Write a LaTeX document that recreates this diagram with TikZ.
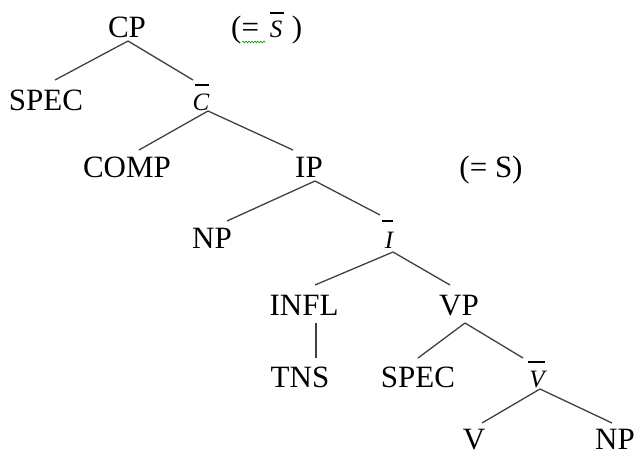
\documentclass[tikz,border=0pt]{standalone}
\usepackage{fontspec}
\setmainfont{Liberation Serif}
\usetikzlibrary{decorations.pathmorphing}
\begin{document}
\begin{tikzpicture}[x=1pt,y=-1pt,
  lbl/.style={inner sep=0pt,anchor=base,font=\fontsize{31}{36}\selectfont},
  ital/.style={inner sep=0pt,anchor=base,font=\fontsize{25}{30}\selectfont\itshape},
  edge/.style={draw=black!75,line width=1.3pt},
  barline/.style={draw=black,line width=1.1pt}]
\useasboundingbox (0,0) rectangle (637,455);
% nodes
\node[lbl] (cp) at (127,37) {CP};
\node[lbl,anchor=base west] (lpar) at (231,37) {(=};
\node[ital] (sl) at (276,37) {S};
\node[lbl] (rpar) at (297,37) {)};
\node[lbl] (spec) at (46,110) {SPEC};
\node[ital] (cbar) at (201,110) {C};
\node[lbl] (comp) at (127,177) {COMP};
\node[lbl] (ip) at (309,177) {IP};
\node[lbl] (eqs) at (491,177) {(= S)};
\node[lbl] (npa) at (212,248) {NP};
\node[ital] (ibar) at (389,248) {I};
\node[lbl] (infl) at (304,315) {INFL};
\node[lbl] (vp) at (459,315) {VP};
\node[lbl] (tns) at (300,387) {TNS};
\node[lbl] (specb) at (418,387) {SPEC};
\node[ital] (vbar) at (537,387) {V};
\node[lbl] (v) at (474,449) {V};
\node[lbl] (npb) at (615,449) {NP};
% bars
\draw[barline] (270,13) -- (284,13);
\draw[barline] (195,85) -- (209,85);
\draw[barline] (382,221) -- (393,221);
\draw[barline] (528,362) -- (545,362);
% spell-check underline
\draw[green!60!black,line width=0.6pt,decorate,decoration={snake,amplitude=0.9pt,segment length=3pt}] (242,42) -- (265,42);
% edges
\draw[edge] ([shift={(1,4)}]cp.base) -- ([shift={(9,-30)}]spec.base);
\draw[edge] ([shift={(1,4)}]cp.base) -- ([shift={(-8,-30)}]cbar.base);
\draw[edge] ([shift={(7,1)}]cbar.base) -- ([shift={(12,-27)}]comp.base);
\draw[edge] ([shift={(7,1)}]cbar.base) -- ([shift={(-16,-27)}]ip.base);
\draw[edge] ([shift={(6,4)}]ip.base) -- ([shift={(15,-27)}]npa.base);
\draw[edge] ([shift={(6,4)}]ip.base) -- ([shift={(-9,-33)}]ibar.base);
\draw[edge] ([shift={(4,4)}]ibar.base) -- ([shift={(11,-30)}]infl.base);
\draw[edge] ([shift={(4,4)}]ibar.base) -- ([shift={(-9,-30)}]vp.base);
\draw[edge] ([shift={(12,8)}]infl.base) -- ([shift={(16,-29)}]tns.base);
\draw[edge] ([shift={(6,8)}]vp.base) -- ([shift={(0,-29)}]specb.base);
\draw[edge] ([shift={(6,8)}]vp.base) -- ([shift={(-14,-29)}]vbar.base);
\draw[edge] ([shift={(3,2)}]vbar.base) -- ([shift={(8,-26)}]v.base);
\draw[edge] ([shift={(3,2)}]vbar.base) -- ([shift={(-3,-26)}]npb.base);
\end{tikzpicture}
\end{document}
